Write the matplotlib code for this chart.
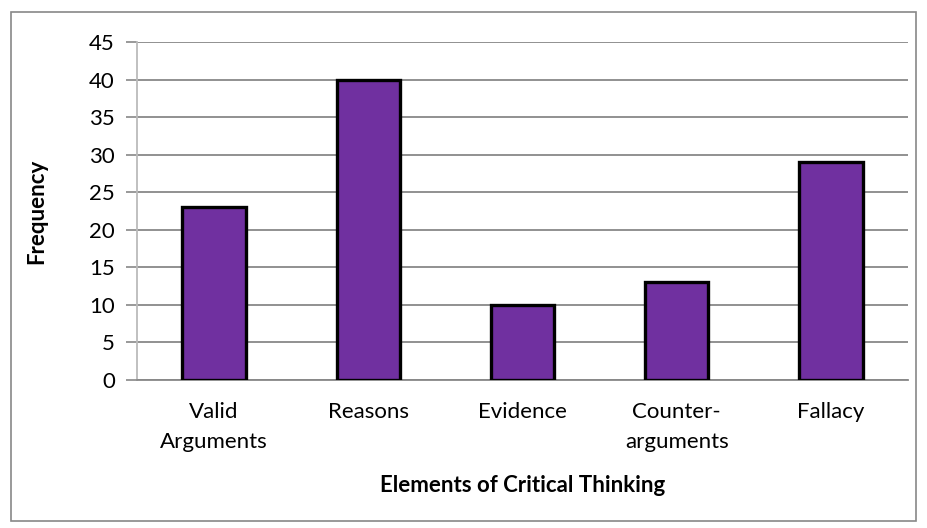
import matplotlib.pyplot as plt
from matplotlib.patches import Rectangle

categories = ["Valid\nArguments", "Reasons", "Evidence", "Counter-\narguments", "Fallacy"]
frequency = [23, 40, 10, 13, 29]
y_ticks = [0, 5, 10, 15, 20, 25, 30, 35, 40, 45]

plt.rcParams['font.family'] = ['Lato', 'DejaVu Sans']

fig = plt.figure(figsize=(9.27, 5.28), dpi=100)
ax = fig.add_axes([0.1478, 0.2803, 0.8317, 0.6402])

x = range(len(categories))
ax.bar(x, frequency, width=0.41, color="#7030A0", edgecolor="black", linewidth=2.4, zorder=3)

ax.set_xlim(-0.5, len(categories) - 0.5)
ax.set_ylim(0, 45)
ax.set_yticks(y_ticks)
ax.set_xticks(list(x))
ax.set_xticklabels(categories, fontsize=16, linespacing=1.6)
ax.tick_params(axis="y", labelsize=16, length=8, color="#888888", width=1.2, pad=8)
ax.tick_params(axis="x", length=0, pad=16)

ax.grid(axis="y", color="#888888", linewidth=1.3, zorder=0)
for side in ["top", "right"]:
    ax.spines[side].set_visible(False)
ax.spines["left"].set_color("#bbbbbb")
ax.spines["left"].set_linewidth(1.3)
ax.spines["bottom"].set_color("#888888")
ax.spines["bottom"].set_linewidth(1.3)

ax.set_ylabel("Frequency", fontsize=16, fontweight="bold", labelpad=30)
ax.set_xlabel("Elements of Critical Thinking", fontsize=16, fontweight="bold", labelpad=17)

# outer chart frame
fig.patches.append(Rectangle((11 / 927, 1 - 521 / 528), 905 / 927, 509 / 528,
                             transform=fig.transFigure, fill=False,
                             edgecolor="#888888", linewidth=1.2))

fig.savefig("out.png", dpi=100)
